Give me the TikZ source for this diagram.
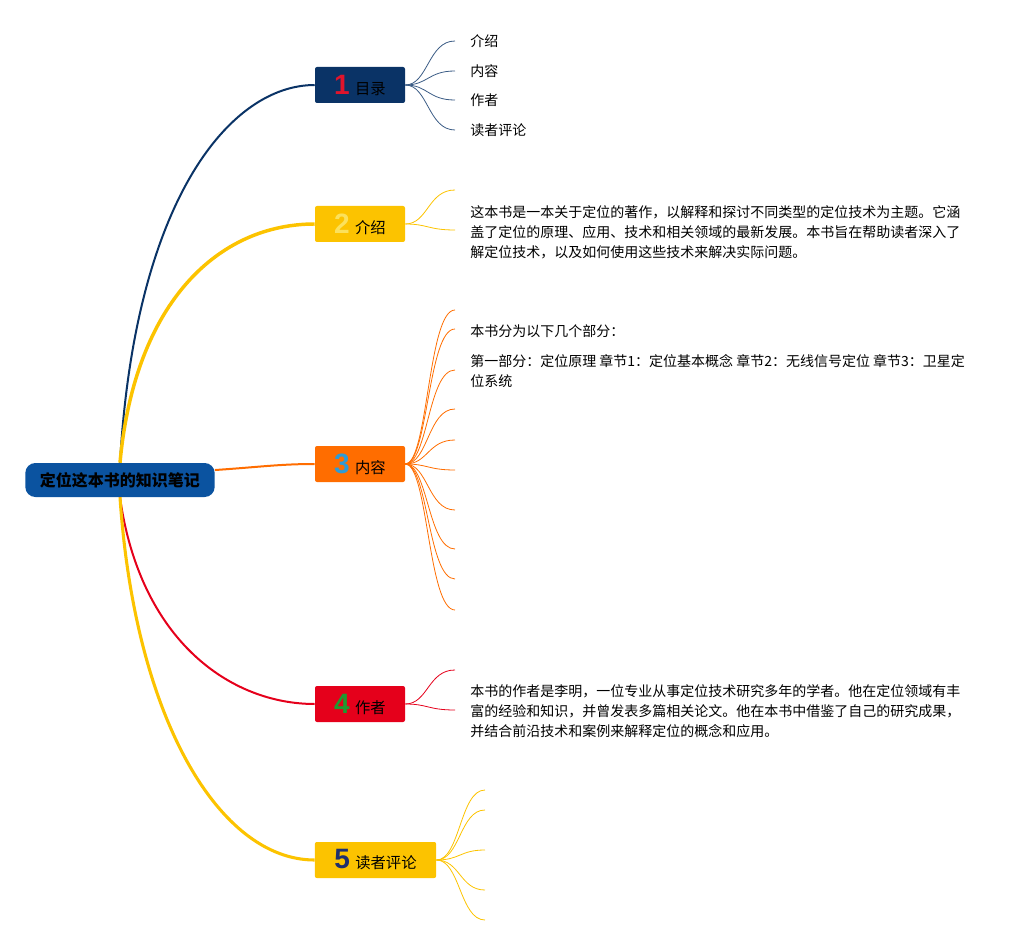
\documentclass[tikz,border=0pt]{standalone}
\usepackage{fontspec}
\setmainfont{Noto Sans CJK SC}
\newfontfamily\numfont{Liberation Sans}
\definecolor{rootblue}{HTML}{0B53A0}
\definecolor{navy}{HTML}{0A3366}
\definecolor{gold}{HTML}{FCC300}
\definecolor{orng}{HTML}{FF6D00}
\definecolor{crimson}{HTML}{E5001B}
\definecolor{numred}{HTML}{E0142C}
\definecolor{numyellow}{HTML}{FBE15C}
\definecolor{numblue}{HTML}{2E9BD6}
\definecolor{numgreen}{HTML}{1E9A30}
\definecolor{numnavy}{HTML}{1F2F6E}
\tikzset{
  topic/.style={rectangle,rounded corners=1.5pt,minimum width=67.5pt,minimum height=27pt,
    inner xsep=7.5pt,font=\fontsize{11.5}{13}\selectfont},
  leaf/.style={anchor=west,inner sep=0pt,font=\fontsize{10.5}{15}\selectfont},
  para/.style={anchor=north west,inner sep=0pt,align=left,font=\fontsize{10.5}{15}\selectfont},
  twig/.style={line width=0.6pt}
}
\newcommand{\topicnum}[2]{{\numfont\bfseries\fontsize{21}{21}\selectfont\textcolor{#1}{#2}}\hspace{4pt}}

\begin{document}
\begin{tikzpicture}[x=0.75pt,y=-0.75pt]%mind map
\useasboundingbox (0,0) rectangle (1029,945);
\node[fill=rootblue,rounded corners=7.5pt,minimum width=142pt,minimum height=25.5pt,
  font=\fontsize{12}{14}\selectfont\bfseries] (root) at (120,480) {定位这本书的知识笔记};
\node[topic,fill=navy] (b1) at (360,85) {\topicnum{numred}{1}目录};
\node[topic,fill=gold] (b2) at (360,224) {\topicnum{numyellow}{2}介绍};
\node[topic,fill=orng] (b3) at (360,464) {\topicnum{numblue}{3}内容};
\node[topic,fill=crimson] (b4) at (360,704) {\topicnum{numgreen}{4}作者};
\node[topic,fill=gold,minimum width=91pt] (b5) at (375.5,860) {\topicnum{numnavy}{5}读者评论};
\draw[navy,line width=1.5pt] (root.north) .. controls (135,200) and (230,85) .. (b1.west);
\draw[gold,line width=2.6pt] (root.north) .. controls (135,300) and (220,224) .. (b2.west);
\draw[orng,line width=1.5pt] (root.6) .. controls (260,467) and (280,464) .. (b3.west);
\draw[crimson,line width=1.5pt] (root.south) .. controls (140,640) and (230,704) .. (b4.west);
\draw[gold,line width=2.3pt] (root.south) .. controls (135,720) and (220,860) .. (b5.west);
% leaves
\foreach \y/\t [count=\i] in {41/介绍,71/内容,100/作者,130/读者评论}{
  \coordinate (e1\i) at (455,\y);
  \node[leaf] (l1\i) at (470,\y) {\t};
  \draw[twig,navy!80] (b1.east) .. controls (428,85) and (428,\y) .. (e1\i);
}
\foreach \y [count=\i] in {190,230}{
  \coordinate (e2\i) at (455,\y);
  \draw[twig,gold] (b2.east) .. controls (428,224) and (428,\y) .. (e2\i);
}
\foreach \y [count=\i] in {310,329,370,409,440,470,510,549,579,610}{
  \coordinate (e3\i) at (455,\y);
  \draw[twig,orng] (b3.east) .. controls (428,464) and (428,\y) .. (e3\i);
}
\foreach \y [count=\i] in {670,710}{
  \coordinate (e4\i) at (455,\y);
  \draw[twig,crimson] (b4.east) .. controls (428,704) and (428,\y) .. (e4\i);
}
\foreach \y [count=\i] in {790,810,850,890,920}{
  \coordinate (e5\i) at (485,\y);
  \draw[twig,gold] (b5.east) .. controls (460,860) and (460,\y) .. (e5\i);
}
\node[para] (t2) at (470,205) {这本书是一本关于定位的著作，以解释和探讨不同类型的定位技术为主题。它涵\\
盖了定位的原理、应用、技术和相关领域的最新发展。本书旨在帮助读者深入了\\
解定位技术，以及如何使用这些技术来解决实际问题。};
\node[leaf] (t3a) at (470,331) {本书分为以下几个部分：};
\node[para] (t3b) at (470,354) {第一部分：定位原理 章节1：定位基本概念 章节2：无线信号定位 章节3：卫星定\\
位系统};
\node[para] (t4) at (470,684) {本书的作者是李明，一位专业从事定位技术研究多年的学者。他在定位领域有丰\\
富的经验和知识，并曾发表多篇相关论文。他在本书中借鉴了自己的研究成果，\\
并结合前沿技术和案例来解释定位的概念和应用。};
\end{tikzpicture}
\end{document}
